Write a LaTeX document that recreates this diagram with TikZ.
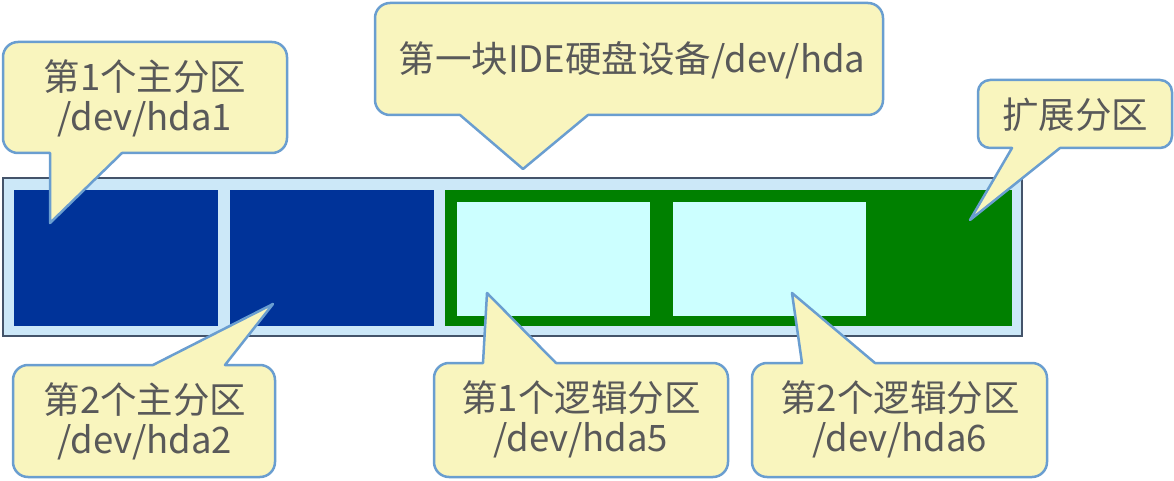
\documentclass[tikz,border=0pt]{standalone}
\usepackage{fontspec}
\setmainfont{Noto Sans CJK SC}
\definecolor{outerfill}{HTML}{CCE8F8}
\definecolor{outerline}{HTML}{44546A}
\definecolor{primblue}{HTML}{003399}
\definecolor{extgreen}{HTML}{008000}
\definecolor{logcyan}{HTML}{CCFFFF}
\definecolor{callfill}{HTML}{F9F5BE}
\definecolor{callline}{HTML}{6A9ED0}
\definecolor{txtgray}{HTML}{595959}
\tikzset{
  callout/.style={fill=callfill, draw=callline, line width=2.5pt, line join=round},
  lbl/.style={text=txtgray, align=center, font=\fontsize{36.5}{40}\selectfont, inner sep=0pt},
}
\begin{document}
\begin{tikzpicture}[x=1pt,y=-1pt]
\useasboundingbox (0,0) rectangle (1174,481);
% disk
\draw[fill=outerfill, draw=outerline, line width=2pt] (3,178) rectangle (1022,336);
\fill[primblue] (14,190) rectangle (218,326);
\fill[primblue] (230,190) rectangle (434,326);
\fill[extgreen] (445,190) rectangle (1012,326);
\fill[logcyan] (457,202) rectangle (650,316);
\fill[logcyan] (673,202) rectangle (866,316);
% callouts (pointer at bottom)
\draw[callout] (50,223) -- (50,153) [rounded corners=15pt] -- (3,153) -- (3,42) -- (287,42) -- (287,153) [sharp corners] -- (122,153) -- cycle;
\draw[callout] (523,169) -- (460,115) [rounded corners=15pt] -- (375,115) -- (375,3) -- (883,3) -- (883,115) [sharp corners] -- (588,115) -- cycle;
\draw[callout] (970,220) -- (1012,148) [rounded corners=12pt] -- (978,148) -- (978,80) -- (1172,80) -- (1172,148) [sharp corners] -- (1060,148) -- cycle;
% callouts (pointer at top)
\draw[callout] (273,304) -- (153,365) [rounded corners=15pt] -- (13,365) -- (13,477) -- (275,477) -- (275,365) [sharp corners] -- (225,365) -- cycle;
\draw[callout] (487,293) -- (483,363) [rounded corners=15pt] -- (434,363) -- (434,477) -- (728,477) -- (728,363) [sharp corners] -- (556,363) -- cycle;
\draw[callout] (792,293) -- (802,363) [rounded corners=15pt] -- (752,363) -- (752,477) -- (1047,477) -- (1047,363) [sharp corners] -- (875,363) -- cycle;
% labels
\node[lbl] (p1) at (145,98) {第1个主分区\\/dev/hda1};
\node[lbl] (disk) at (632,60) {第一块IDE硬盘设备/dev/hda};
\node[lbl] (ext) at (1075,115) {扩展分区};
\node[lbl] (p2) at (145,421) {第2个主分区\\/dev/hda2};
\node[lbl] (l5) at (581,419) {第1个逻辑分区\\/dev/hda5};
\node[lbl] (l6) at (900,419) {第2个逻辑分区\\/dev/hda6};
\end{tikzpicture}
\end{document}
